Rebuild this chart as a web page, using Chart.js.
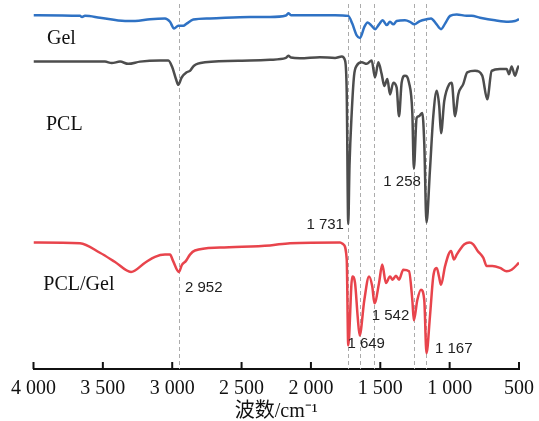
<!DOCTYPE html>
<html>
<head>
<meta charset="utf-8">
<script src="https://cdn.jsdelivr.net/npm/chart.js@4/dist/chart.umd.min.js"></script>
<style>
  body { margin: 0; background: #fff; }
  #wrap { width: 539px; height: 421px; }
</style>
</head>
<body>
<div id="wrap"><canvas id="ftir"></canvas></div>
<script>
// FTIR spectra, transmittance in arbitrary units (curves offset)
const gelWn = [4000, 3665, 3650, 3629, 3521, 3340, 3268, 3160, 3052, 3016, 2987, 2956, 2920, 2896, 2848, 2728, 2439, 2295, 2180, 2163, 2144, 2079, 1935, 1826, 1731, 1702, 1670, 1646, 1615, 1591, 1562, 1538, 1509, 1483, 1454, 1430, 1406, 1382, 1322, 1286, 1255, 1214, 1165, 1134, 1098, 1062, 1033, 997, 949, 877, 841, 781, 673, 577, 529, 500];
const gelT = [95.9, 95.7, 95.4, 95.7, 95.2, 94.3, 94.3, 94.8, 95.0, 94.1, 92.3, 93.0, 93.0, 93.6, 94.7, 95.0, 95.4, 95.4, 95.8, 96.4, 95.9, 95.9, 95.9, 95.9, 95.7, 93.6, 90.4, 89.7, 92.7, 93.9, 93.0, 92.1, 93.4, 94.5, 93.2, 94.1, 93.4, 94.3, 94.5, 94.1, 93.4, 94.3, 94.8, 95.0, 93.6, 92.1, 93.6, 95.7, 96.1, 95.7, 95.7, 95.2, 94.5, 94.1, 94.3, 94.8];

const pclWn = [4000, 3485, 3436, 3376, 3317, 3232, 3088, 3028, 2999, 2973, 2956, 2932, 2896, 2872, 2843, 2764, 2439, 2295, 2180, 2163, 2144, 2079, 1935, 1826, 1778, 1754, 1742, 1731, 1722, 1706, 1689, 1670, 1634, 1598, 1562, 1538, 1514, 1490, 1471, 1449, 1430, 1406, 1382, 1365, 1346, 1322, 1293, 1269, 1258, 1238, 1221, 1197, 1183, 1167, 1142, 1118, 1093, 1075, 1062, 1039, 1003, 985, 961, 938, 902, 873, 817, 765, 729, 697, 637, 589, 572, 553, 529, 510, 500];
const pclT = [83.3, 83.3, 82.9, 83.3, 82.7, 83.3, 83.6, 83.6, 81.7, 78.6, 77.0, 79.0, 80.4, 80.8, 82.2, 83.1, 83.6, 83.8, 84.3, 84.9, 84.4, 84.2, 84.5, 84.3, 84.7, 83.6, 75.0, 39.3, 55.0, 69.4, 79.5, 82.2, 83.1, 82.7, 83.6, 79.0, 83.1, 79.9, 76.7, 78.6, 74.4, 77.6, 76.3, 68.5, 77.6, 79.5, 77.6, 69.4, 54.3, 68.0, 68.5, 69.4, 61.2, 39.7, 53.9, 68.5, 75.4, 71.2, 63.9, 72.6, 77.2, 77.6, 68.5, 74.4, 77.2, 80.4, 80.8, 79.5, 73.1, 80.8, 81.3, 81.3, 79.9, 82.0, 79.5, 81.5, 82.2];

const blendWn = [4000, 3665, 3521, 3412, 3297, 3196, 3124, 3052, 3016, 2994, 2952, 2930, 2901, 2872, 2836, 2656, 2295, 2151, 1790, 1767, 1742, 1731, 1702, 1682, 1663, 1649, 1615, 1581, 1558, 1542, 1509, 1486, 1459, 1430, 1411, 1387, 1365, 1334, 1293, 1269, 1258, 1233, 1207, 1183, 1167, 1142, 1118, 1093, 1077, 1062, 1033, 990, 969, 949, 925, 894, 858, 830, 798, 757, 733, 692, 637, 589, 553, 500];
const blendT = [34.3, 34.1, 31.5, 29.0, 26.3, 28.8, 30.4, 31.0, 31.0, 29.3, 26.3, 28.2, 29.3, 31.0, 32.1, 32.9, 33.5, 34.1, 34.3, 33.8, 29.7, 6.4, 25.1, 23.3, 14.2, 9.1, 18.7, 25.1, 22.4, 17.8, 23.3, 28.3, 23.3, 25.1, 24.2, 25.3, 24.2, 26.9, 26.5, 18.7, 13.2, 18.7, 21.5, 18.7, 4.3, 14.2, 25.1, 27.4, 25.1, 22.8, 27.9, 32.0, 29.7, 31.0, 32.4, 33.8, 34.3, 33.8, 32.0, 30.1, 27.9, 27.9, 27.4, 26.5, 26.9, 28.8];

// marked bands (dashed guides)
const markerWn = [2952, 1731, 1649, 1542, 1258, 1167];
const tickValues = [4000, 3500, 3000, 2500, 2000, 1500, 1000, 500];

function toPoints(wn, t) {
  return wn.map((w, i) => ({ x: w, y: t[i] }));
}

const serif = '"Liberation Serif", "Times New Roman", "Noto Sans CJK SC", serif';
const sans = '"Liberation Sans", Arial, sans-serif';

const overlay = {
  id: 'overlay',
  beforeDatasetsDraw(chart) {
    const { ctx, chartArea, scales: { x } } = chart;
    ctx.save();
    ctx.strokeStyle = '#ababab';
    ctx.lineWidth = 1;
    ctx.setLineDash([4, 3]);
    markerWn.forEach(w => {
      const px = Math.round(x.getPixelForValue(w)) + 0.5;
      ctx.beginPath();
      ctx.moveTo(px, chartArea.top + 4);
      ctx.lineTo(px, chartArea.bottom);
      ctx.stroke();
    });
    ctx.restore();
  },
  afterDraw(chart) {
    const { ctx, chartArea, scales: { x, y } } = chart;
    ctx.save();
    // inward tick marks
    ctx.strokeStyle = '#111';
    ctx.lineWidth = 2;
    tickValues.forEach(v => {
      const px = x.getPixelForValue(v);
      ctx.beginPath();
      ctx.moveTo(px, chartArea.bottom);
      ctx.lineTo(px, chartArea.bottom - 7);
      ctx.stroke();
    });
    // curve names
    ctx.fillStyle = '#111';
    ctx.textBaseline = 'middle';
    ctx.textAlign = 'left';
    ctx.font = '20px ' + serif;
    [['Gel', 3903, 89.6], ['PCL', 3910, 66.3], ['PCL/Gel', 3929, 22.8]].forEach(([s, w, t]) => {
      ctx.fillText(s, x.getPixelForValue(w), y.getPixelForValue(t));
    });
    // peak labels
    ctx.fillStyle = '#222';
    ctx.font = '15px ' + sans;
    [['2 952', 2908, 21.9, 'left'], ['1 731', 1762, 39.0, 'right'], ['1 258', 1478, 50.7, 'left'],
     ['1 542', 1562, 14.3, 'left'], ['1 649', 1737, 6.7, 'left'], ['1 167', 1106, 5.5, 'left']].forEach(([s, w, t, a]) => {
      ctx.textAlign = a;
      ctx.fillText(s, x.getPixelForValue(w), y.getPixelForValue(t));
    });
    ctx.restore();
  }
};

new Chart(document.getElementById('ftir'), {
  type: 'line',
  data: {
    datasets: [
      { label: 'Gel', data: toPoints(gelWn, gelT), borderColor: '#2f72c4' },
      { label: 'PCL', data: toPoints(pclWn, pclT), borderColor: '#4d4d4d' },
      { label: 'PCL/Gel', data: toPoints(blendWn, blendT), borderColor: '#e8444c' }
    ]
  },
  options: {
    responsive: true,
    maintainAspectRatio: false,
    animation: false,
    layout: { padding: { left: 33.5, right: 20, top: 0, bottom: 0 } },
    elements: {
      point: { radius: 0 },
      line: { borderWidth: 2.5, cubicInterpolationMode: 'monotone', fill: false }
    },
    plugins: { legend: { display: false }, tooltip: { enabled: false } },
    scales: {
      x: {
        type: 'linear',
        reverse: true,
        min: 500,
        max: 4000,
        afterFit: scale => { scale.paddingLeft = 0; scale.paddingRight = 0; },
        grid: { display: false, drawTicks: false },
        border: { display: true, color: '#111', width: 2 },
        ticks: {
          stepSize: 500,
          padding: 8,
          color: '#111',
          font: { family: serif, size: 20 },
          callback: v => String(v).replace(/\B(?=(\d{3})+(?!\d))/g, ' ')
        },
        title: {
          display: true,
          text: '波数/cm⁻¹',
          color: '#111',
          padding: { top: -9, bottom: -3 },
          font: { family: serif, size: 20 }
        }
      },
      y: { display: false, min: 0, max: 100 }
    }
  },
  plugins: [overlay]
});
</script>
</body>
</html>
